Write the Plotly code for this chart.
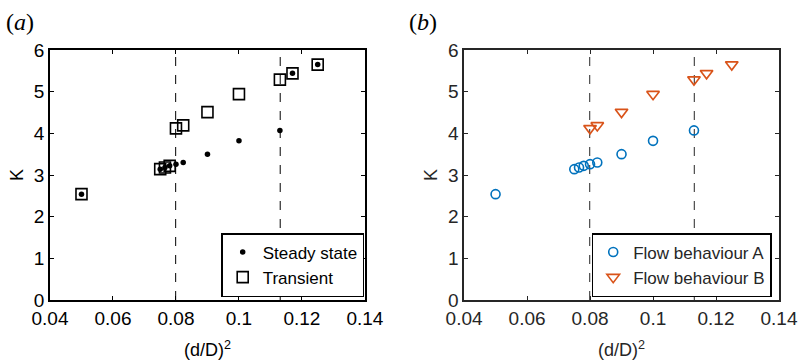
import plotly.graph_objects as go
from plotly.subplots import make_subplots

# ---- data ----
steady_x = [0.050, 0.075, 0.0765, 0.078, 0.080, 0.0823, 0.090, 0.100, 0.113, 0.117, 0.125]
steady_K = [2.54, 3.14, 3.18, 3.22, 3.26, 3.30, 3.50, 3.82, 4.07, 5.44, 5.65]
transient_x = [0.050, 0.075, 0.0765, 0.078, 0.080, 0.0823, 0.090, 0.100, 0.113, 0.117, 0.125]
transient_K = [2.54, 3.14, 3.18, 3.22, 4.12, 4.19, 4.51, 4.94, 5.29, 5.44, 5.65]

flowA_x = [0.050, 0.075, 0.0765, 0.078, 0.080, 0.0823, 0.090, 0.100, 0.113]
flowA_K = [2.54, 3.14, 3.18, 3.22, 3.26, 3.30, 3.50, 3.82, 4.07]
flowB_x = [0.080, 0.0823, 0.090, 0.100, 0.113, 0.117, 0.125]
flowB_K = [4.12, 4.19, 4.51, 4.94, 5.29, 5.44, 5.65]

threshold_x = [0.0799, 0.1131]

x_ticks = [0.04, 0.06, 0.08, 0.10, 0.12, 0.14]
x_ticklabels = ["0.04", "0.06", "0.08", "0.1", "0.12", "0.14"]
y_ticks = [0, 1, 2, 3, 4, 5, 6]

BLUE = "#0072BD"
ORANGE = "#D95319"
FONT = "Liberation Sans, Arial, sans-serif"
SERIF = "Liberation Serif, DejaVu Serif, serif"

fig = make_subplots(rows=1, cols=2, horizontal_spacing=0.136)

fig.add_trace(go.Scatter(x=transient_x, y=transient_K, mode="markers", name="Transient",
                         marker=dict(symbol="square-open", size=11, color="black",
                                     line=dict(width=1.6, color="black")),
                         legend="legend"), row=1, col=1)
fig.add_trace(go.Scatter(x=steady_x, y=steady_K, mode="markers", name="Steady state",
                         marker=dict(symbol="circle", size=5.5, color="black"),
                         legend="legend"), row=1, col=1)

fig.add_trace(go.Scatter(x=flowA_x, y=flowA_K, mode="markers", name="Flow behaviour A",
                         marker=dict(symbol="circle-open", size=9, color=BLUE,
                                     line=dict(width=1.6, color=BLUE)),
                         legend="legend2"), row=1, col=2)
fig.add_trace(go.Scatter(x=flowB_x, y=flowB_K, mode="markers", name="Flow behaviour B",
                         marker=dict(symbol="triangle-down-open", size=11, color=ORANGE,
                                     line=dict(width=1.6, color=ORANGE)),
                         legend="legend2"), row=1, col=2)

for tx in threshold_x:
    fig.add_vline(x=tx, line=dict(color="black", width=1, dash="dash"), row=1, col=1, layer="below")
    fig.add_vline(x=tx, line=dict(color="#262626", width=1, dash="dash"), row=1, col=2, layer="below")

for c, col in [(1, "black"), (2, "#262626")]:
    fig.update_xaxes(range=[0.04, 0.14], tickvals=x_ticks, ticktext=x_ticklabels,
                     ticks="inside", ticklen=4, tickcolor=col, showline=True, linecolor=col,
                     linewidth=1.5, mirror="ticks", showgrid=False, zeroline=False,
                     automargin=False,
                     tickfont=dict(size=19, color=col, family=FONT),
                     title=dict(text="(d/D)<sup>2</sup>", font=dict(size=18, color=col, family=FONT),
                                standoff=16),
                     row=1, col=c)
    fig.update_yaxes(range=[0, 6], tickvals=y_ticks,
                     ticks="inside", ticklen=4, tickcolor=col, showline=True, linecolor=col,
                     linewidth=1.5, mirror="ticks", showgrid=False, zeroline=False,
                     automargin=False,
                     tickfont=dict(size=19, color=col, family=FONT),
                     title=dict(text="K", font=dict(size=18, color=col, family=FONT), standoff=6),
                     row=1, col=c)

fig.update_layout(
    width=800, height=363,
    margin=dict(l=50, r=21, t=50, b=63),
    plot_bgcolor="white", paper_bgcolor="white",
    font=dict(family=FONT, size=17, color="black"),
    legend=dict(x=0.431, y=0.012, xanchor="right", yanchor="bottom",
                bordercolor="black", borderwidth=1.5, bgcolor="white",
                font=dict(size=17, family=FONT), itemwidth=30, traceorder="reversed",
                tracegroupgap=0),
    legend2=dict(x=0.990, y=0.012, xanchor="right", yanchor="bottom",
                 bordercolor="black", borderwidth=1.5, bgcolor="white",
                 font=dict(size=17, family=FONT, color="#262626"), itemwidth=30),
)
fig.add_annotation(text="(<i>a</i>)", x=-0.063, y=1.11, xref="paper", yref="paper",
                   showarrow=False, xanchor="left", yanchor="middle",
                   font=dict(family=SERIF, size=24, color="black"))
fig.add_annotation(text="(<i>b</i>)", x=0.49, y=1.11, xref="paper", yref="paper",
                   showarrow=False, xanchor="left", yanchor="middle",
                   font=dict(family=SERIF, size=24, color="black"))

fig.write_html("out.html", config={"displayModeBar": False},
               post_script="document.body.style.margin='0px';")
